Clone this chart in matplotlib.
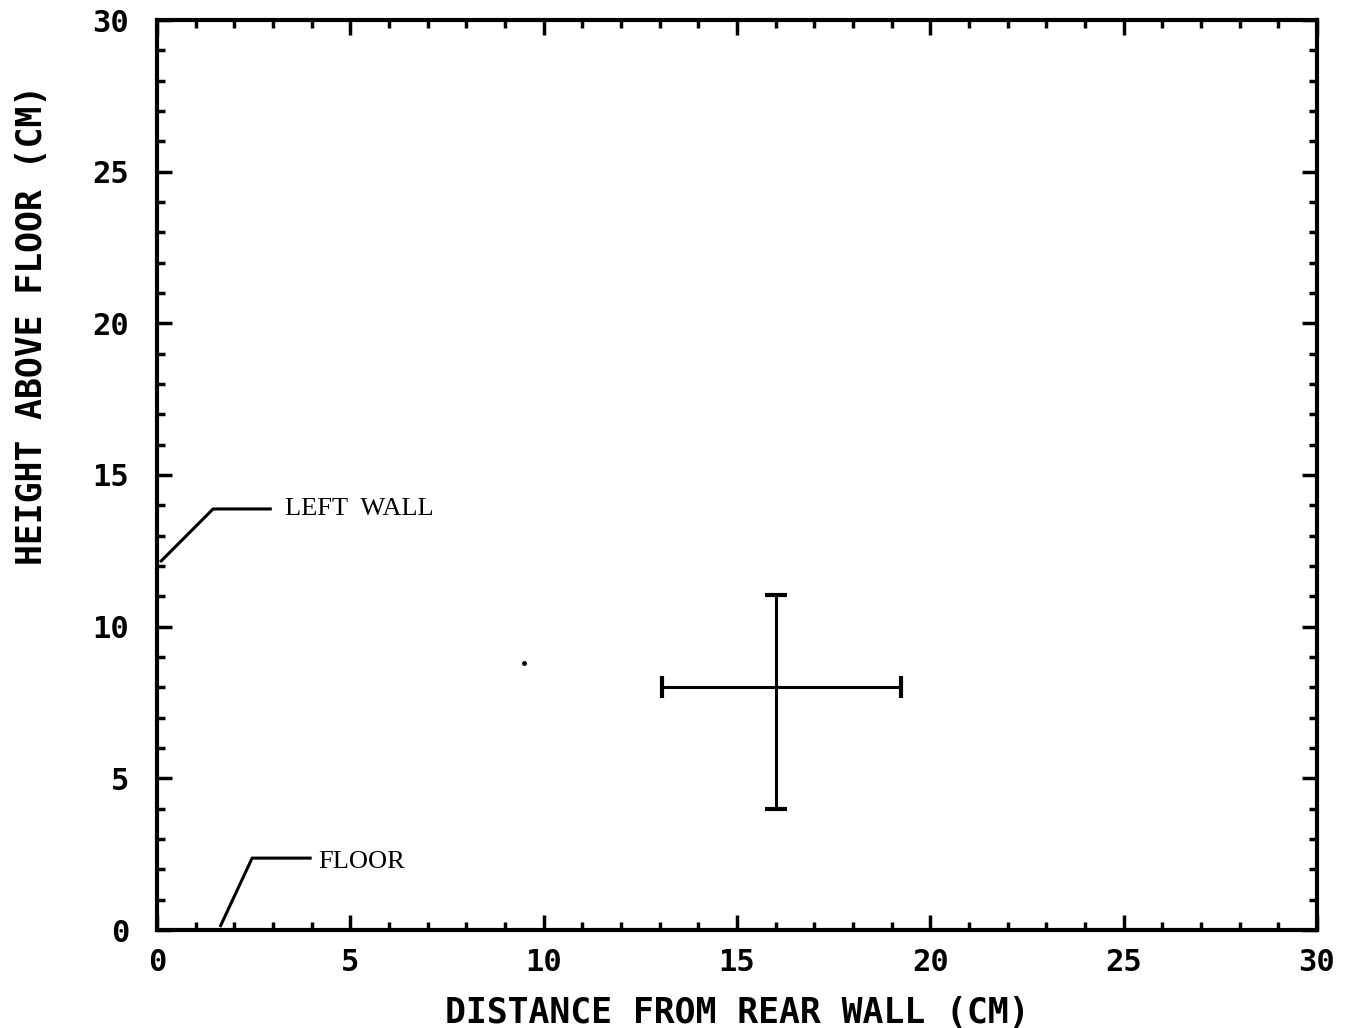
import numpy as np
import matplotlib.pyplot as plt

# measured position (cm) with asymmetric spread
pos_x = [16.0]
pos_y = [8.0]
xerr_lo, xerr_hi = [2.95], [3.25]
yerr_lo, yerr_hi = [4.0], [3.05]

# stray dot on the plot
speck_x = [9.5]
speck_y = [8.8]

# leader lines for the wall labels
wall_x = [0.08, 1.45, 2.97]
wall_y = [12.13, 13.88, 13.88]
floor_x = [1.63, 2.46, 4.0]
floor_y = [0.1, 2.37, 2.37]

ticks = [0, 5, 10, 15, 20, 25, 30]
tick_labels = ['0', '5', '10', '15', '20', '25', '30']

mono = {'family': 'DejaVu Sans Mono', 'weight': 'bold'}

fig = plt.figure(figsize=(13.45, 10.28), dpi=100)
ax = fig.add_axes([157/1345, 1 - 930/1028, 1160/1345, 910/1028])

ax.errorbar(pos_x, pos_y, xerr=[xerr_lo, xerr_hi], yerr=[yerr_lo, yerr_hi],
            fmt='none', ecolor='black', elinewidth=2.2, capsize=8, capthick=3)
ax.plot(speck_x, speck_y, 'o', color='black', ms=2.5)

ax.plot(wall_x, wall_y, color='black', lw=2.2, solid_capstyle='butt')
ax.text(3.31, 13.88, 'LEFT  WALL', family='Liberation Serif', fontsize=19,
        va='center', ha='left')
ax.plot(floor_x, floor_y, color='black', lw=2.2, solid_capstyle='butt')
ax.text(4.16, 2.24, 'FLOOR', family='Liberation Serif', fontsize=19,
        va='center', ha='left')

ax.set_xlim(0, 30)
ax.set_ylim(0, 30)
ax.set_xticks(ticks)
ax.set_yticks(ticks)
ax.set_xticklabels(tick_labels, fontdict=mono, fontsize=22)
ax.set_yticklabels(tick_labels, fontdict=mono, fontsize=22)
ax.set_xticks(np.arange(0, 31, 1), minor=True)
ax.set_yticks(np.arange(0, 31, 1), minor=True)
ax.tick_params(which='both', direction='in', top=True, right=True, color='black')
ax.tick_params(which='major', length=11, width=2.5)
ax.tick_params(which='minor', length=6, width=2.5)
ax.tick_params(axis='x', which='major', pad=13)
ax.tick_params(axis='y', which='major', pad=20)
for s in ax.spines.values():
    s.set_linewidth(3)

ax.set_xlabel('DISTANCE FROM REAR WALL (CM)', fontdict=mono, fontsize=25)
ax.set_ylabel('HEIGHT ABOVE FLOOR (CM)', fontdict=mono, fontsize=25)
ax.xaxis.set_label_coords(0.5, -0.072)
ax.yaxis.set_label_coords(-0.093, 0.665)

fig.savefig('out.png', dpi=100)
